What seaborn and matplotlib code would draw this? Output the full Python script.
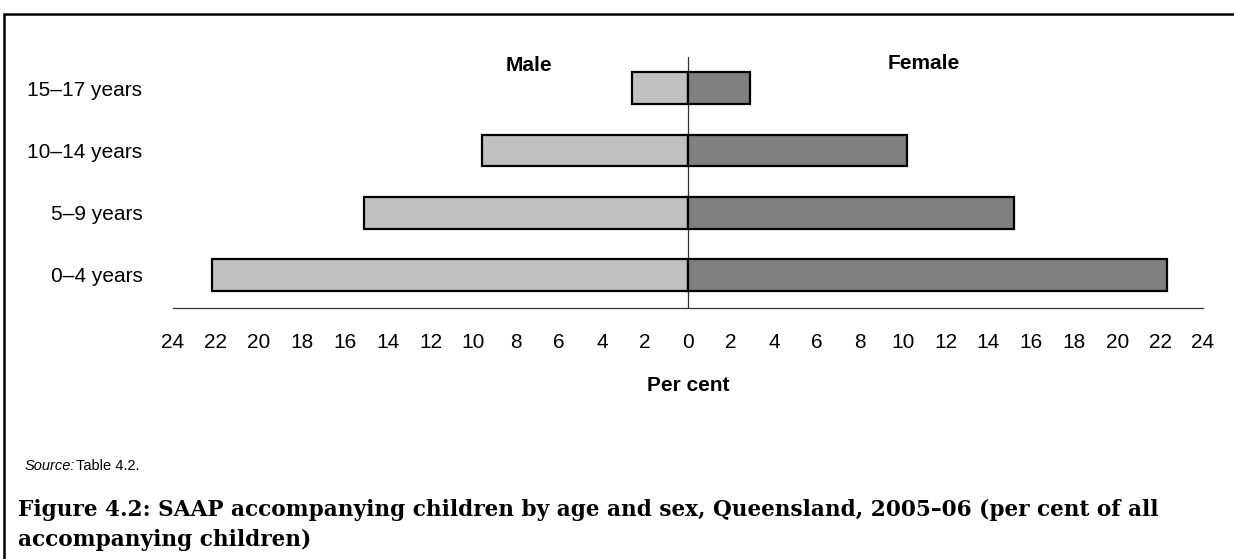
import seaborn as sns
import matplotlib.pyplot as plt
import matplotlib.patches as mpatches
import pandas as pd

# values (per cent)
age_groups = ["15–17 years", "10–14 years", "5–9 years", "0–4 years"]
male = [2.6, 9.6, 15.1, 22.2]
female = [2.9, 10.2, 15.2, 22.3]
tick_values = list(range(-24, 25, 2))

df = pd.DataFrame({
    "age": age_groups * 2,
    "sex": ["Male"] * len(age_groups) + ["Female"] * len(age_groups),
    "value": [-v for v in male] + female,
})

sns.set_style("white")
plt.rcParams["font.family"] = ["Liberation Sans", "DejaVu Sans"]
plt.rcParams["text.color"] = "black"
plt.rcParams["axes.labelcolor"] = "black"
plt.rcParams["xtick.color"] = "black"
plt.rcParams["ytick.color"] = "black"

fig = plt.figure(figsize=(12.34, 5.59), dpi=100)
ax = fig.add_axes([173 / 1234, 1 - 308 / 559, (1203 - 173) / 1234, (308 - 57) / 559])

sns.barplot(data=df, y="age", x="value", hue="sex", order=age_groups,
            hue_order=["Male", "Female"], palette={"Male": "#c0c0c0", "Female": "#808080"},
            dodge=False, orient="h", width=0.51, edgecolor="black", linewidth=1.6,
            legend=False, ax=ax)

ax.axvline(0, color="#333333", linewidth=0.9, zorder=0.5)
ax.set_xlim(-24, 24)
ax.set_ylim(3.53, -0.5)
ax.set_xticks(tick_values)
ax.set_xticklabels([str(abs(t)) for t in tick_values], fontsize=15)
ax.tick_params(axis="x", direction="out", length=6, width=0.9, color="#333333", pad=12)
ax.tick_params(axis="y", length=0, pad=22, labelsize=15)
for side in ["top", "right", "left"]:
    ax.spines[side].set_visible(False)
ax.spines["bottom"].set_color("#333333")
ax.spines["bottom"].set_linewidth(0.9)
ax.set_ylabel("")
ax.set_xlabel("Per cent", fontsize=15, fontweight="bold", labelpad=17)

ax.text(-7.4, -0.37, "Male", ha="center", va="center", fontsize=15, fontweight="bold")
ax.text(11.0, -0.39, "Female", ha="center", va="center", fontsize=15, fontweight="bold")

fig.text(25 / 1234, 1 - 466 / 559, "Source:", fontsize=10.5, style="italic", va="center")
fig.text(76 / 1234, 1 - 466 / 559, "Table 4.2.", fontsize=10.5, va="center")

fig.text(18 / 1234, 1 - 510 / 559,
         "Figure 4.2: SAAP accompanying children by age and sex, Queensland, 2005–06 (per cent of all",
         fontsize=15.6, fontweight="bold", family="DejaVu Serif", va="center")
fig.text(18 / 1234, 1 - 540 / 559, "accompanying children)",
         fontsize=15.6, fontweight="bold", family="DejaVu Serif", va="center")

# outer frame (runs off the right and bottom edges like the reference)
frame = mpatches.Rectangle((4 / 1234, -0.05), 1.05, 1 - 14 / 559 + 0.05,
                           transform=fig.transFigure, fill=False,
                           edgecolor="black", linewidth=1.8)
fig.patches.append(frame)

fig.savefig("out.png", dpi=100)
